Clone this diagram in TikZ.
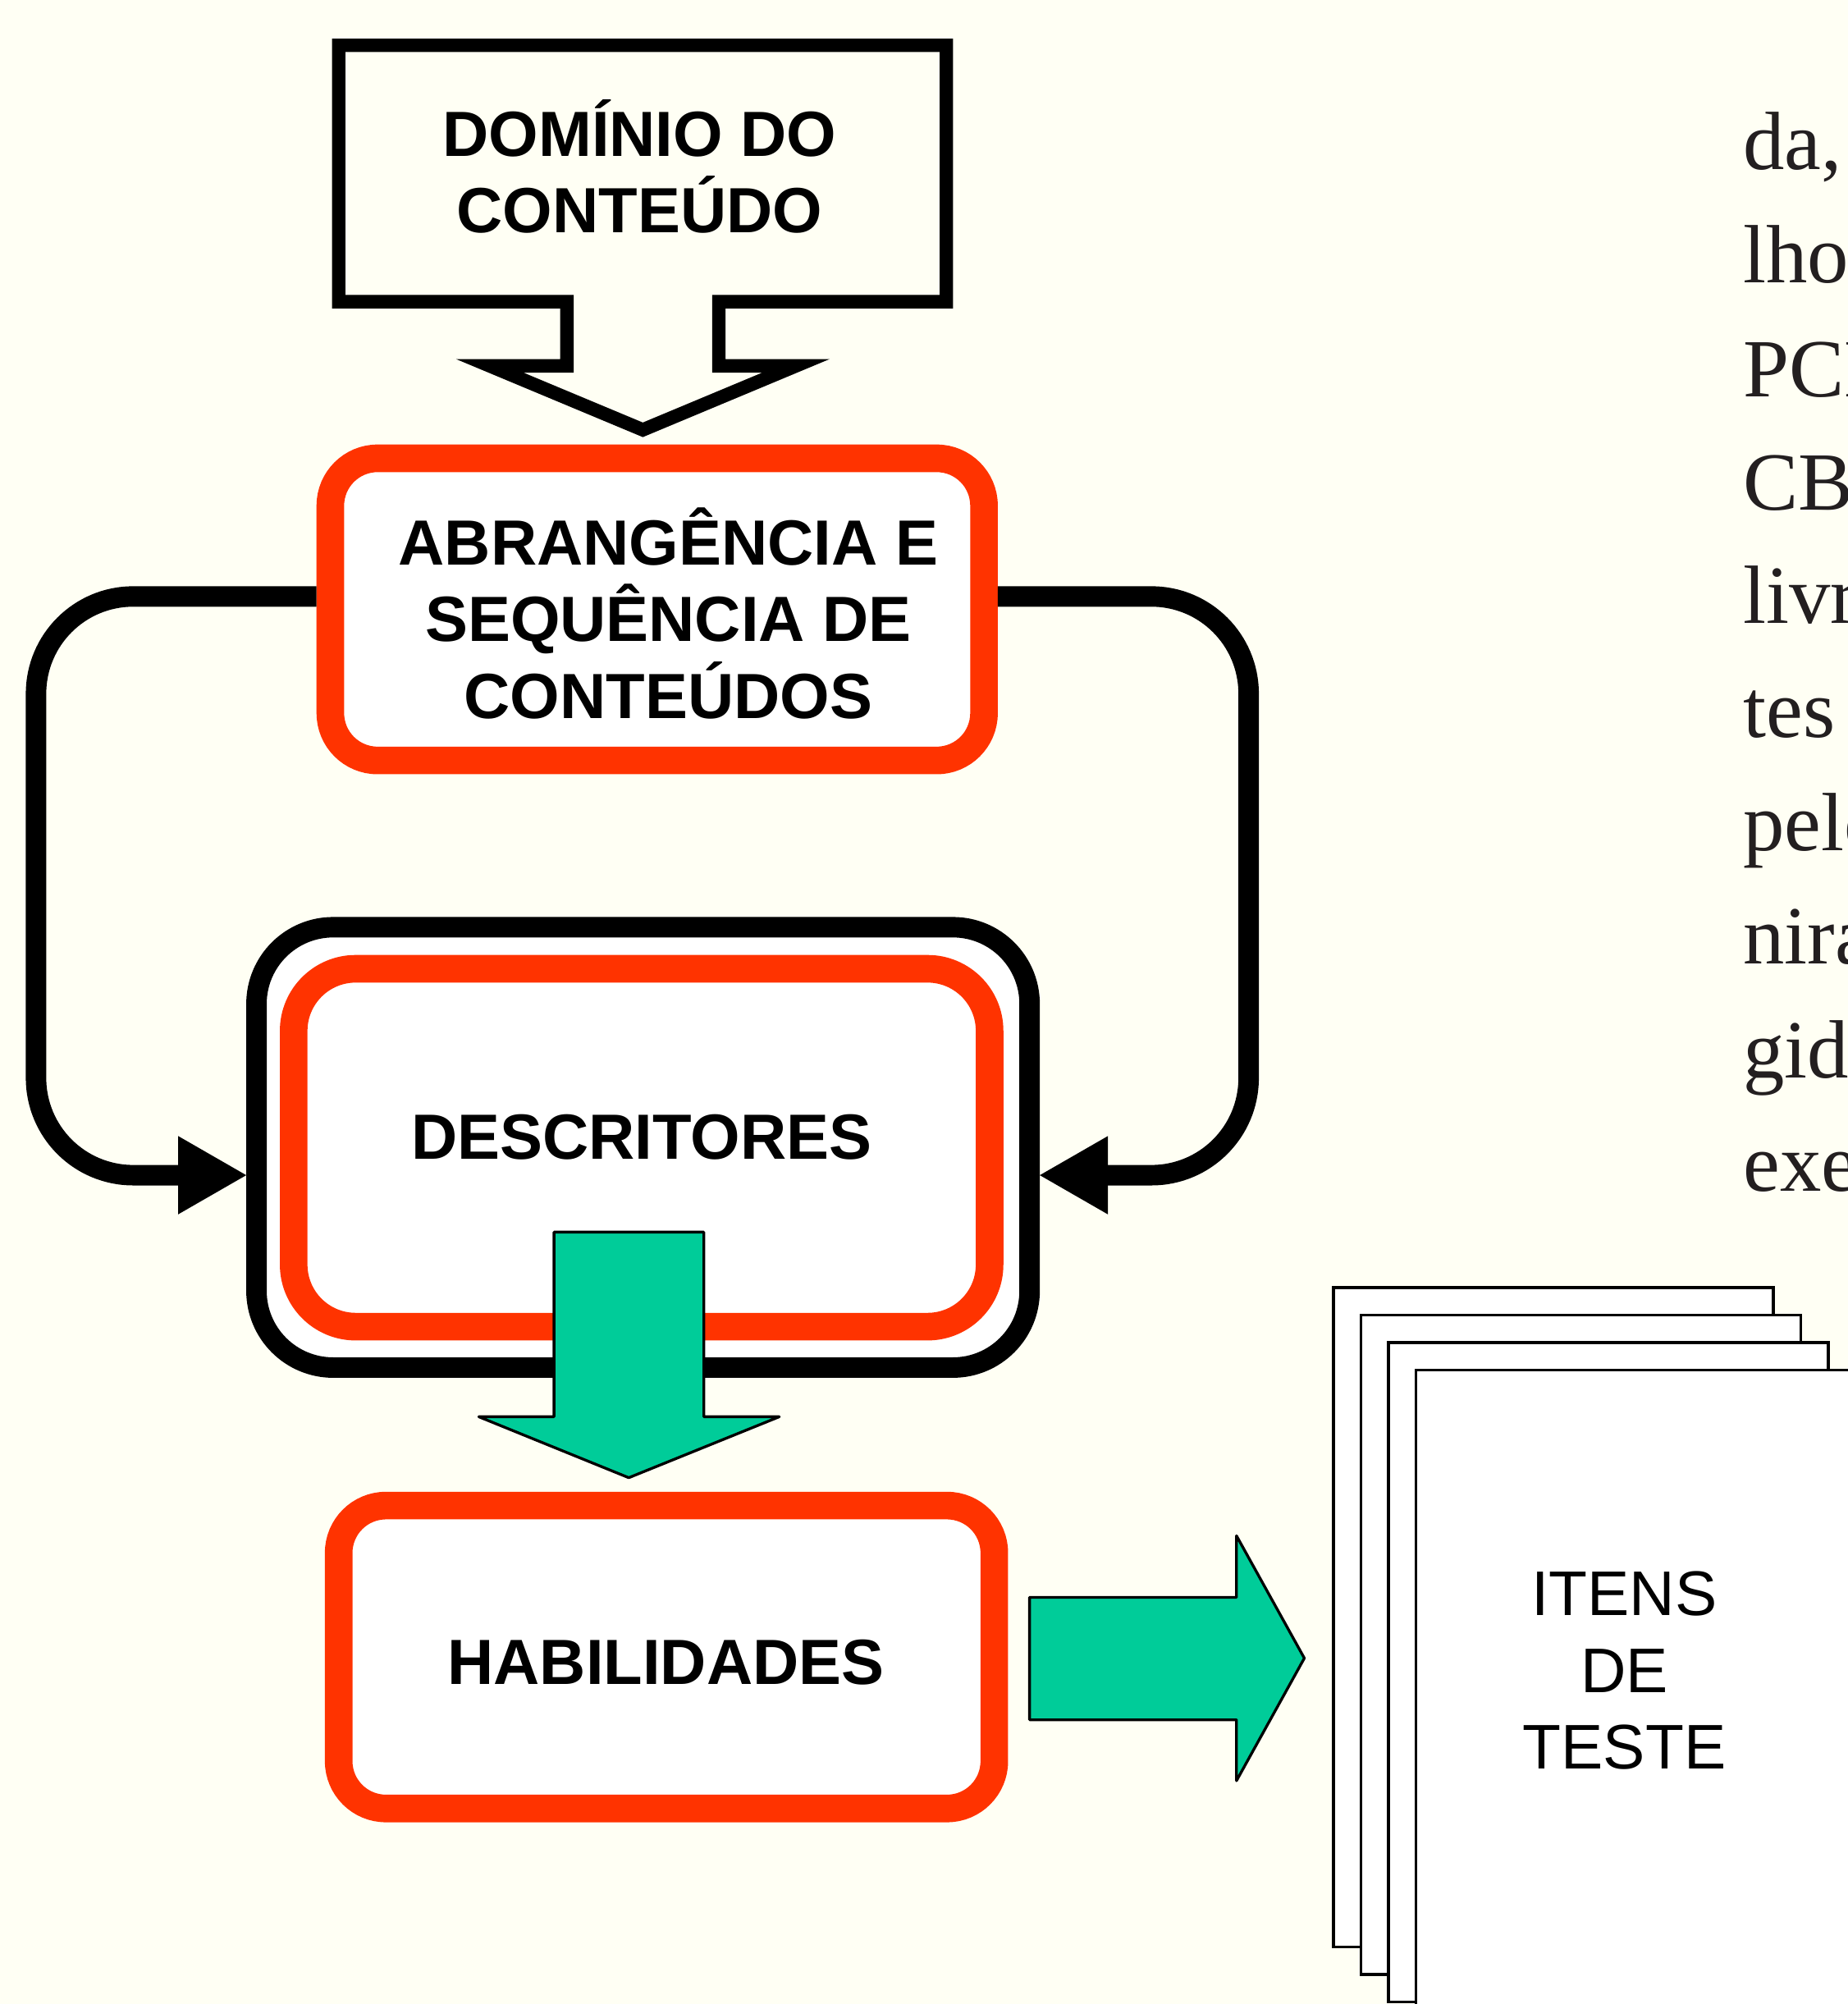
\documentclass[tikz,border=0pt]{standalone}
\usepackage{fontspec}
\setmainfont{Liberation Sans}
\newfontfamily\sidefont{Liberation Serif}
\usetikzlibrary{arrows.meta}

\definecolor{bgcream}{RGB}{255,255,244}
\definecolor{boxred}{RGB}{255,51,0}
\definecolor{arrowgreen}{RGB}{0,204,153}
\definecolor{sidegray}{RGB}{35,31,32}

\tikzset{every picture/.style={line width=0.75pt}}
\tikzset{
  redbox/.style={draw=boxred, fill=white, line width=16.2pt, rounded corners=27.75pt, inner sep=0pt},
  outerbox/.style={draw=black, fill=white, line width=12pt, rounded corners=45pt, inner sep=0pt},
  lbl/.style={font=\fontsize{37.5}{45}\selectfont\bfseries, align=center, inner sep=0pt, anchor=base},
  looparrow/.style={draw=black, line width=12pt, rounded corners=57pt, -{Triangle[length=40pt,width=46pt,line width=0pt]}},
  blockarrow/.style={draw=black, fill=arrowgreen, line width=1.6pt, line join=round},
  pagesheet/.style={draw=black, fill=white, line width=1.65pt},
}

\begin{document}
\begin{tikzpicture}[x=0.75pt,y=0.75pt,yscale=-1,xscale=1]
\useasboundingbox (0,0) rectangle (1446,1568);
\fill[bgcream] (0,0) rectangle (1446,1568);
\clip (0,0) rectangle (1446,1568);

%Callout box
\draw[line width=7.9pt, line join=miter] (265,35.5) -- (740.5,35.5) -- (740.5,236) -- (562.5,236) -- (562.5,286.25) -- (622.8,286.25) -- (503,336.3) -- (383.2,286.25) -- (443.6,286.25) -- (443.6,236) -- (265,236) -- cycle ;
% Text Node (anchor on last line)
\node[lbl] (dominio) at (500.5,182) {DOMÍNIO DO\\CONTEÚDO};

%Rounded Rect
\node[redbox, minimum width=383.6pt, minimum height=177.3pt] (abrangencia) at (514.2,476.8) {};
% Text Node
\node[lbl] (abrangenciatxt) at (523,562) {ABRANGÊNCIA E\\SEQUÊNCIA DE\\CONTEÚDOS};

%Rounded Rect
\node[outerbox, minimum width=453.7pt, minimum height=258.4pt] (descritores) at (503.15,897.75) {};
%Rounded Rect
\node[redbox, rounded corners=36.4pt, minimum width=408.4pt, minimum height=210pt] (descritoresin) at (502.05,898) {};
% Text Node
\node[lbl] (descritorestxt) at (502,907) {DESCRITORES};

%Loop Lines
\draw[looparrow] (abrangencia.west |- 0,466.7) -- (28.2,466.7) -- (28.2,919.5) -- (descritores.west |- 0,919.5);
\draw[looparrow] (abrangencia.east |- 0,466.7) -- (977,466.7) -- (977,919.5) -- (descritores.east |- 0,919.5);

%Down Arrow
\draw[blockarrow] (433.5,964) -- (550.7,964) -- (550.7,1108.5) -- (609.8,1108.5) -- (492,1156.2) -- (374.6,1108.5) -- (433.5,1108.5) -- cycle ;

%Rounded Rect
\node[redbox, minimum width=384.75pt, minimum height=177.75pt] (habilidades) at (521.5,1296.5) {};
% Text Node
\node[lbl] (habilidadestxt) at (521,1318) {HABILIDADES};

%Right Arrow
\draw[blockarrow] (805.6,1249.8) -- (967.5,1249.8) -- (967.5,1201.6) -- (1020.6,1297.4) -- (967.5,1393.3) -- (967.5,1345.6) -- (805.6,1345.6) -- cycle ;

%Pages
\draw[pagesheet] (1043.5,1007.5) rectangle (1387.5,1523.5);
\draw[pagesheet] (1065,1029) rectangle (1409,1545);
\draw[pagesheet] (1086.5,1050.5) rectangle (1430.5,1566.5);
\draw[pagesheet] (1108,1072) rectangle (1452,1588);
% Text Node
\node[lbl, font=\fontsize{37}{45}\selectfont] (itens) at (1271,1384) {ITENS\\DE\\TESTE};

% Text Node
\node[anchor=base west, inner sep=0pt, align=left, text=sidegray, font=\sidefont\fontsize{48.5}{66.6}\selectfont] (sidetext) at (1363.5,931.9) {da,\\lho\\PCN\\CBA\\livr\\tes\\pelo\\nira\\gid\\exe};

\end{tikzpicture}
\end{document}
